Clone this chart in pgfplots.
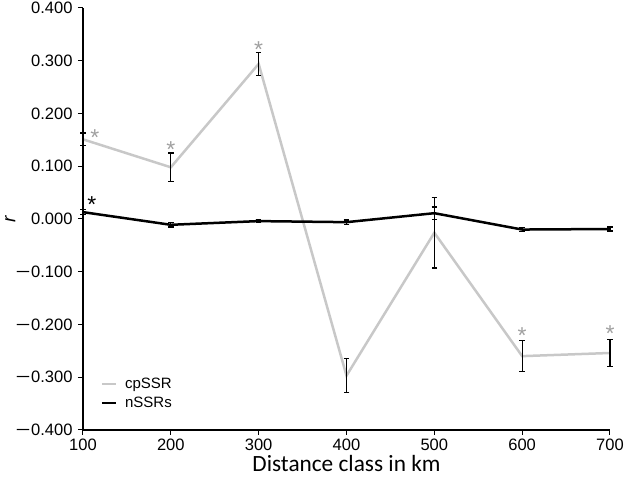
\documentclass[border=0pt]{standalone}
\usepackage{pgfplots}
\pgfplotsset{compat=1.18}
\usepackage{fontspec}
\setmainfont{Liberation Sans}
\newfontfamily\calibri{Carlito}
\definecolor{lgray}{RGB}{200,200,200}
\definecolor{agray}{RGB}{160,160,160}
\newcommand{\mn}{\scalebox{1.55}[1]{−}\hspace{0.5pt}}
\newcommand{\sigast}[1]{\smash{\raisebox{-10.8pt}{\textcolor{#1}{\fontsize{23}{23}\selectfont *}}}}
\begin{document}
\begin{tikzpicture}
\path[use as bounding box] (-83pt,-51pt) rectangle (542pt,430pt);
\begin{axis}[
  at={(0pt,0pt)}, anchor=south west,
  scale only axis,
  width=527pt, height=422pt,
  xmin=100, xmax=700, ymin=-0.4, ymax=0.4,
  axis x line*=bottom, axis y line*=left,
  axis line style={line width=1.3pt},
  xtick={100,200,...,700},
  ytick={-0.4,-0.3,-0.2,-0.1,0,0.1,0.2,0.3,0.4},
  yticklabels={\mn 0.400,\mn 0.300,\mn 0.200,\mn 0.100,0.000,0.100,0.200,0.300,0.400},
  tick align=outside,
  major tick length=5pt,
  tick style={line width=1pt, black},
  tick label style={font=\fontsize{16.5}{18}\selectfont},
  yticklabel style={xshift=-2pt},
  /pgf/number format/assume math mode=true,
  xlabel={\calibri\fontsize{23.3}{25}\selectfont Distance class in km},
  ylabel={\fontsize{19}{21}\selectfont\itshape r},
  xlabel style={yshift=2pt},
  ylabel style={at={(axis description cs:-0.138,0.5)}, anchor=center},
  legend style={at={(axis description cs:0.033,0.045)}, anchor=south west, draw=none, fill=none,
    font=\fontsize{15}{16}\selectfont, row sep=3pt, inner sep=0pt},
  legend cell align=left,
  legend image code/.code={\draw[#1] (0pt,0pt) -- (14pt,0pt); \path (20pt,0pt);},
  clip=false,
]
\addplot[lgray, line width=2.5pt, mark=none,
  error bars/.cd, y dir=both, y explicit,
  error bar style={black, line width=1.3pt},
  error mark options={black, line width=1.3pt, mark size=2.8pt, rotate=90}]
coordinates {
 (100,0.151) +- (0,0.012)
 (200,0.098) +- (0,0.027)
 (300,0.294) +- (0,0.022)
 (400,-0.297) +- (0,0.032)
 (500,-0.026) +- (0,0.067)
 (600,-0.260) +- (0,0.029)
 (700,-0.254) +- (0,0.026)
};
\addlegendentry{cpSSR}
\addplot[black, line width=2.5pt, mark=none,
  error bars/.cd, y dir=both, y explicit,
  error bar style={black, line width=1.3pt},
  error mark options={black, line width=1.3pt, mark size=2.8pt, rotate=90}]
coordinates {
 (100,0.013) +- (0,0.005)
 (200,-0.011) +- (0,0.004)
 (300,-0.004) +- (0,0.003)
 (400,-0.006) +- (0,0.004)
 (500,0.011) +- (0,0.012)
 (600,-0.020) +- (0,0.004)
 (700,-0.019) +- (0,0.004)
};
\addlegendentry{nSSRs}
% significance asterisks
\addplot[only marks, mark=text, forget plot, text mark={\sigast{agray}}]
coordinates {(113.5,0.159) (200,0.137) (300,0.326) (600,-0.216) (700,-0.212)};
\addplot[only marks, mark=text, forget plot, text mark={\sigast{black}}]
coordinates {(110,0.032)};
\end{axis}
\end{tikzpicture}
\end{document}
